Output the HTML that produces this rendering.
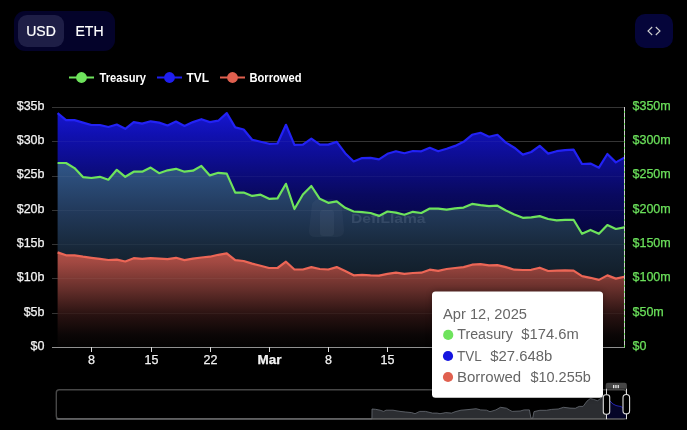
<!DOCTYPE html>
<html><head><meta charset="utf-8"><style>
html,body{margin:0;padding:0;background:#000;width:687px;height:430px;overflow:hidden}
svg{display:block;font-family:"Liberation Sans",sans-serif;will-change:transform}
</style></head><body>
<svg width="687" height="430" viewBox="0 0 687 430">
<defs>
<linearGradient id="gT" gradientUnits="userSpaceOnUse" x1="0" y1="107" x2="0" y2="347.5">
<stop offset="0" stop-color="rgb(24,24,215)"/>
<stop offset="0.116" stop-color="rgb(16,16,176)"/>
<stop offset="0.262" stop-color="rgb(12,12,128)"/>
<stop offset="0.366" stop-color="rgb(9,9,95)"/>
<stop offset="0.532" stop-color="rgb(6,6,62)"/>
<stop offset="1" stop-color="rgb(3,3,30)"/></linearGradient>
<linearGradient id="gG" gradientUnits="userSpaceOnUse" x1="0" y1="107" x2="0" y2="347.5">
<stop offset="0.22" stop-color="rgb(48,86,136)"/>
<stop offset="0.262" stop-color="rgb(46,82,130)"/>
<stop offset="0.428" stop-color="rgb(34,58,92)"/>
<stop offset="0.594" stop-color="rgb(23,39,56)"/>
<stop offset="0.74" stop-color="rgb(16,27,37)"/>
<stop offset="1" stop-color="rgb(8,12,16)"/></linearGradient>
<linearGradient id="gB" gradientUnits="userSpaceOnUse" x1="0" y1="107" x2="0" y2="347.5">
<stop offset="0.594" stop-color="rgb(178,82,73)"/>
<stop offset="0.644" stop-color="rgb(162,73,66)"/>
<stop offset="0.76" stop-color="rgb(100,46,42)"/>
<stop offset="0.865" stop-color="rgb(40,18,17)"/>
<stop offset="0.948" stop-color="rgb(11,6,6)"/>
<stop offset="1" stop-color="rgb(3,2,2)"/></linearGradient>
<filter id="sh" x="-20%" y="-20%" width="140%" height="140%"><feGaussianBlur stdDeviation="3"/></filter>
</defs>
<rect x="0" y="0" width="687" height="430" fill="#000"/>
<!-- currency toggle -->
<rect x="14" y="11" width="101" height="40" rx="11" fill="#04032a"/>
<rect x="18" y="15" width="46" height="32" rx="9" fill="#1e1e46"/>
<text x="41" y="35.8" font-size="14" fill="#fff" stroke="#fff" stroke-width="0.2" text-anchor="middle">USD</text>
<text x="89.5" y="35.8" font-size="14" fill="#fff" stroke="#fff" stroke-width="0.2" text-anchor="middle">ETH</text>
<!-- embed button -->
<rect x="635" y="14" width="38" height="34" rx="10" fill="#05053a"/>
<path d="M652.2 27 L648 31 L652.2 35 M655.8 27 L660 31 L655.8 35" stroke="#d0d0d0" stroke-width="1.1" fill="none"/>
<!-- legend -->
<g font-size="12.5" font-weight="bold" fill="#fff">
<line x1="69" x2="94" y1="77.5" y2="77.5" stroke="#6ee35c" stroke-width="2"/><circle cx="81.5" cy="77.5" r="5.4" fill="#6ee35c"/>
<text x="99.5" y="81.6" textLength="46.5" lengthAdjust="spacingAndGlyphs">Treasury</text>
<line x1="157" x2="182" y1="77.5" y2="77.5" stroke="#1f1ff0" stroke-width="2"/><circle cx="169.5" cy="77.5" r="5.4" fill="#1f1ff0"/>
<text x="186.5" y="81.6" textLength="22.5" lengthAdjust="spacingAndGlyphs">TVL</text>
<line x1="220" x2="245" y1="77.5" y2="77.5" stroke="#e0604f" stroke-width="2"/><circle cx="232.5" cy="77.5" r="5.4" fill="#e0604f"/>
<text x="249.5" y="81.6" textLength="52" lengthAdjust="spacingAndGlyphs">Borrowed</text>
</g>
<!-- grid (under) -->
<g stroke="#2c2c2c" stroke-width="1"><line x1="52" x2="624.5" y1="107.5" y2="107.5"/><line x1="52" x2="624.5" y1="141.5" y2="141.5"/><line x1="52" x2="624.5" y1="176.5" y2="176.5"/><line x1="52" x2="624.5" y1="210.5" y2="210.5"/><line x1="52" x2="624.5" y1="244.5" y2="244.5"/><line x1="52" x2="624.5" y1="278.5" y2="278.5"/><line x1="52" x2="624.5" y1="313.5" y2="313.5"/></g>
<!-- areas -->
<path d="M57.60,113.10 66.06,120.10 74.52,120.10 82.97,122.60 91.43,125.00 99.89,125.00 108.35,127.00 116.81,124.50 125.27,128.80 133.72,122.10 142.18,123.60 150.64,121.30 159.10,122.60 167.56,125.50 176.01,121.50 184.47,125.90 192.93,122.10 201.39,119.20 209.85,122.10 218.31,120.70 226.76,113.10 235.22,127.40 243.68,129.50 252.14,139.80 260.60,141.70 269.06,143.80 277.51,143.50 285.97,124.80 294.43,144.90 302.89,144.60 311.35,138.70 319.80,144.60 328.26,144.60 336.72,141.90 345.18,153.20 353.64,161.50 362.10,158.10 370.55,157.80 379.01,159.30 387.47,153.80 395.93,151.30 404.39,153.20 412.84,151.00 421.30,151.30 429.76,147.80 438.22,151.30 446.68,148.80 455.14,145.90 463.59,141.80 472.05,134.80 480.51,132.80 488.97,136.70 497.43,134.80 505.89,142.60 514.34,147.70 522.80,154.60 531.26,152.00 539.72,145.90 548.18,153.60 556.63,151.20 565.09,150.10 573.55,149.60 582.01,164.00 590.47,163.60 598.93,167.70 607.38,154.00 615.84,162.40 624.30,157.60 L624.30,227.30 615.84,229.00 607.38,225.10 598.93,233.80 590.47,229.90 582.01,233.80 573.55,219.80 565.09,219.80 556.63,220.30 548.18,219.00 539.72,216.10 531.26,217.40 522.80,217.80 514.34,214.40 505.89,210.50 497.43,205.70 488.97,206.10 480.51,205.10 472.05,203.90 463.59,207.60 455.14,208.30 446.68,209.70 438.22,208.60 429.76,208.60 421.30,213.00 412.84,211.80 404.39,214.70 395.93,212.60 387.47,211.50 379.01,215.90 370.55,213.00 362.10,212.10 353.64,211.50 345.18,207.80 336.72,201.30 328.26,202.80 319.80,198.80 311.35,186.00 302.89,194.50 294.43,209.00 285.97,183.80 277.51,198.40 269.06,198.80 260.60,194.70 252.14,195.90 243.68,192.50 235.22,192.60 226.76,173.60 218.31,172.80 209.85,175.40 201.39,165.90 192.93,170.70 184.47,171.70 176.01,168.80 167.56,170.30 159.10,173.20 150.64,167.60 142.18,171.70 133.72,171.70 125.27,176.80 116.81,169.80 108.35,179.70 99.89,176.80 91.43,178.00 82.97,177.10 74.52,168.10 66.06,163.00 57.60,163.00 Z" fill="url(#gT)"/>
<path d="M57.60,163.00 66.06,163.00 74.52,168.10 82.97,177.10 91.43,178.00 99.89,176.80 108.35,179.70 116.81,169.80 125.27,176.80 133.72,171.70 142.18,171.70 150.64,167.60 159.10,173.20 167.56,170.30 176.01,168.80 184.47,171.70 192.93,170.70 201.39,165.90 209.85,175.40 218.31,172.80 226.76,173.60 235.22,192.60 243.68,192.50 252.14,195.90 260.60,194.70 269.06,198.80 277.51,198.40 285.97,183.80 294.43,209.00 302.89,194.50 311.35,186.00 319.80,198.80 328.26,202.80 336.72,201.30 345.18,207.80 353.64,211.50 362.10,212.10 370.55,213.00 379.01,215.90 387.47,211.50 395.93,212.60 404.39,214.70 412.84,211.80 421.30,213.00 429.76,208.60 438.22,208.60 446.68,209.70 455.14,208.30 463.59,207.60 472.05,203.90 480.51,205.10 488.97,206.10 497.43,205.70 505.89,210.50 514.34,214.40 522.80,217.80 531.26,217.40 539.72,216.10 548.18,219.00 556.63,220.30 565.09,219.80 573.55,219.80 582.01,233.80 590.47,229.90 598.93,233.80 607.38,225.10 615.84,229.00 624.30,227.30 L624.30,276.70 615.84,278.60 607.38,275.40 598.93,279.90 590.47,277.80 582.01,276.20 573.55,270.60 565.09,270.30 556.63,270.60 548.18,271.00 539.72,267.70 531.26,269.80 522.80,270.00 514.34,269.70 505.89,267.10 497.43,265.10 488.97,265.40 480.51,264.20 472.05,264.70 463.59,267.10 455.14,268.00 446.68,269.00 438.22,270.90 429.76,269.70 421.30,272.70 412.84,273.00 404.39,273.80 395.93,272.70 387.47,273.80 379.01,275.60 370.55,275.30 362.10,274.80 353.64,275.30 345.18,270.90 336.72,267.10 328.26,269.50 319.80,269.00 311.35,267.10 302.89,269.50 294.43,269.50 285.97,261.70 277.51,268.00 269.06,268.00 260.60,265.70 252.14,263.60 243.68,261.00 235.22,260.10 226.76,253.40 218.31,254.80 209.85,256.70 201.39,257.50 192.93,258.60 184.47,260.10 176.01,257.80 167.56,259.20 159.10,258.60 150.64,258.20 142.18,258.90 133.72,258.20 125.27,261.50 116.81,259.70 108.35,260.00 99.89,258.90 91.43,257.80 82.97,256.70 74.52,255.30 66.06,255.30 57.60,252.40 Z" fill="url(#gG)"/>
<path d="M57.60,347.5 L57.60,252.40 66.06,255.30 74.52,255.30 82.97,256.70 91.43,257.80 99.89,258.90 108.35,260.00 116.81,259.70 125.27,261.50 133.72,258.20 142.18,258.90 150.64,258.20 159.10,258.60 167.56,259.20 176.01,257.80 184.47,260.10 192.93,258.60 201.39,257.50 209.85,256.70 218.31,254.80 226.76,253.40 235.22,260.10 243.68,261.00 252.14,263.60 260.60,265.70 269.06,268.00 277.51,268.00 285.97,261.70 294.43,269.50 302.89,269.50 311.35,267.10 319.80,269.00 328.26,269.50 336.72,267.10 345.18,270.90 353.64,275.30 362.10,274.80 370.55,275.30 379.01,275.60 387.47,273.80 395.93,272.70 404.39,273.80 412.84,273.00 421.30,272.70 429.76,269.70 438.22,270.90 446.68,269.00 455.14,268.00 463.59,267.10 472.05,264.70 480.51,264.20 488.97,265.40 497.43,265.10 505.89,267.10 514.34,269.70 522.80,270.00 531.26,269.80 539.72,267.70 548.18,271.00 556.63,270.60 565.09,270.30 573.55,270.60 582.01,276.20 590.47,277.80 598.93,279.90 607.38,275.40 615.84,278.60 624.30,276.70 L624.30,347.5 Z" fill="url(#gB)"/>
<g stroke="#fff" stroke-opacity="0.045" stroke-width="1"><line x1="52" x2="624.5" y1="107.5" y2="107.5"/><line x1="52" x2="624.5" y1="141.5" y2="141.5"/><line x1="52" x2="624.5" y1="176.5" y2="176.5"/><line x1="52" x2="624.5" y1="210.5" y2="210.5"/><line x1="52" x2="624.5" y1="244.5" y2="244.5"/><line x1="52" x2="624.5" y1="278.5" y2="278.5"/><line x1="52" x2="624.5" y1="313.5" y2="313.5"/></g>
<!-- watermark -->
<g fill="#c8d8f0">
<path opacity="0.045" d="M312 204 Q316 198 322 199 L332 199 Q340 200 342 208 L344 230 Q344 237 337 237 L315 237 Q309 237 309 231 Z"/>
<rect opacity="0.05" x="320" y="210" width="14" height="26" rx="3"/>
<text opacity="0.13" x="351" y="222.5" font-size="13" font-weight="bold" textLength="74.5" lengthAdjust="spacingAndGlyphs">DefiLlama</text>
</g>
<polyline points="57.60,113.10 66.06,120.10 74.52,120.10 82.97,122.60 91.43,125.00 99.89,125.00 108.35,127.00 116.81,124.50 125.27,128.80 133.72,122.10 142.18,123.60 150.64,121.30 159.10,122.60 167.56,125.50 176.01,121.50 184.47,125.90 192.93,122.10 201.39,119.20 209.85,122.10 218.31,120.70 226.76,113.10 235.22,127.40 243.68,129.50 252.14,139.80 260.60,141.70 269.06,143.80 277.51,143.50 285.97,124.80 294.43,144.90 302.89,144.60 311.35,138.70 319.80,144.60 328.26,144.60 336.72,141.90 345.18,153.20 353.64,161.50 362.10,158.10 370.55,157.80 379.01,159.30 387.47,153.80 395.93,151.30 404.39,153.20 412.84,151.00 421.30,151.30 429.76,147.80 438.22,151.30 446.68,148.80 455.14,145.90 463.59,141.80 472.05,134.80 480.51,132.80 488.97,136.70 497.43,134.80 505.89,142.60 514.34,147.70 522.80,154.60 531.26,152.00 539.72,145.90 548.18,153.60 556.63,151.20 565.09,150.10 573.55,149.60 582.01,164.00 590.47,163.60 598.93,167.70 607.38,154.00 615.84,162.40 624.30,157.60" fill="none" stroke="#2222f5" stroke-width="2.2" stroke-linejoin="round"/>
<polyline points="57.60,163.00 66.06,163.00 74.52,168.10 82.97,177.10 91.43,178.00 99.89,176.80 108.35,179.70 116.81,169.80 125.27,176.80 133.72,171.70 142.18,171.70 150.64,167.60 159.10,173.20 167.56,170.30 176.01,168.80 184.47,171.70 192.93,170.70 201.39,165.90 209.85,175.40 218.31,172.80 226.76,173.60 235.22,192.60 243.68,192.50 252.14,195.90 260.60,194.70 269.06,198.80 277.51,198.40 285.97,183.80 294.43,209.00 302.89,194.50 311.35,186.00 319.80,198.80 328.26,202.80 336.72,201.30 345.18,207.80 353.64,211.50 362.10,212.10 370.55,213.00 379.01,215.90 387.47,211.50 395.93,212.60 404.39,214.70 412.84,211.80 421.30,213.00 429.76,208.60 438.22,208.60 446.68,209.70 455.14,208.30 463.59,207.60 472.05,203.90 480.51,205.10 488.97,206.10 497.43,205.70 505.89,210.50 514.34,214.40 522.80,217.80 531.26,217.40 539.72,216.10 548.18,219.00 556.63,220.30 565.09,219.80 573.55,219.80 582.01,233.80 590.47,229.90 598.93,233.80 607.38,225.10 615.84,229.00 624.30,227.30" fill="none" stroke="#6ee35c" stroke-width="2.2" stroke-linejoin="round"/>
<polyline points="57.60,252.40 66.06,255.30 74.52,255.30 82.97,256.70 91.43,257.80 99.89,258.90 108.35,260.00 116.81,259.70 125.27,261.50 133.72,258.20 142.18,258.90 150.64,258.20 159.10,258.60 167.56,259.20 176.01,257.80 184.47,260.10 192.93,258.60 201.39,257.50 209.85,256.70 218.31,254.80 226.76,253.40 235.22,260.10 243.68,261.00 252.14,263.60 260.60,265.70 269.06,268.00 277.51,268.00 285.97,261.70 294.43,269.50 302.89,269.50 311.35,267.10 319.80,269.00 328.26,269.50 336.72,267.10 345.18,270.90 353.64,275.30 362.10,274.80 370.55,275.30 379.01,275.60 387.47,273.80 395.93,272.70 404.39,273.80 412.84,273.00 421.30,272.70 429.76,269.70 438.22,270.90 446.68,269.00 455.14,268.00 463.59,267.10 472.05,264.70 480.51,264.20 488.97,265.40 497.43,265.10 505.89,267.10 514.34,269.70 522.80,270.00 531.26,269.80 539.72,267.70 548.18,271.00 556.63,270.60 565.09,270.30 573.55,270.60 582.01,276.20 590.47,277.80 598.93,279.90 607.38,275.40 615.84,278.60 624.30,276.70" fill="none" stroke="#ec6656" stroke-width="2.2" stroke-linejoin="round"/>
<!-- axes -->
<line x1="52" x2="624.5" y1="347.5" y2="347.5" stroke="#909090" stroke-width="1"/>
<g stroke="#ddd" stroke-width="1"><line x1="91.5" x2="91.5" y1="347" y2="352"/><line x1="151.5" x2="151.5" y1="347" y2="352"/><line x1="210.5" x2="210.5" y1="347" y2="352"/><line x1="269.5" x2="269.5" y1="347" y2="352"/><line x1="328.5" x2="328.5" y1="347" y2="352"/><line x1="387.5" x2="387.5" y1="347" y2="352"/></g>
<line x1="624.5" x2="624.5" y1="107" y2="347.5" stroke="#6ee35c" stroke-width="1"/>
<line x1="624.5" x2="624.5" y1="107" y2="347.5" stroke="#ccc" stroke-width="1" stroke-dasharray="4 2"/>
<g font-size="12.5" fill="#f2f2f2" stroke="#f2f2f2" stroke-width="0.25" text-anchor="end"><text x="44.5" y="109.90">$35b</text><text x="44.5" y="144.19">$30b</text><text x="44.5" y="178.47">$25b</text><text x="44.5" y="212.76">$20b</text><text x="44.5" y="247.04">$15b</text><text x="44.5" y="281.33">$10b</text><text x="44.5" y="315.61">$5b</text><text x="44.5" y="349.90">$0</text></g>
<g font-size="12.5" fill="#6be05b" stroke="#6be05b" stroke-width="0.25"><text x="632.5" y="109.90">$350m</text><text x="632.5" y="144.19">$300m</text><text x="632.5" y="178.47">$250m</text><text x="632.5" y="212.76">$200m</text><text x="632.5" y="247.04">$150m</text><text x="632.5" y="281.33">$100m</text><text x="632.5" y="315.61">$50m</text><text x="632.5" y="349.90">$0</text></g>
<g font-size="12.5" fill="#f2f2f2" stroke="#f2f2f2" stroke-width="0.25" text-anchor="middle"><text x="91.5" y="363.9">8</text><text x="151.5" y="363.9">15</text><text x="210.5" y="363.9">22</text><text x="269.5" y="363.9" font-weight="bold" textLength="24" lengthAdjust="spacingAndGlyphs">Mar</text><text x="328.5" y="363.9">8</text><text x="387.5" y="363.9">15</text></g>
<!-- slider -->
<rect x="56.3" y="389.8" width="570" height="29.2" rx="3" fill="none" stroke="#474747" stroke-width="1.4"/>
<path d="M56.5,419 L56.5,419 371.9,419 372,409 375.5,409.3 380.1,410.2 383.6,411.4 386,410.2 393,410.2 400,411.4 405.7,412 411.6,412.6 415,413.7 419.7,411.4 425.5,411.4 432.5,413.1 437.2,413.1 440,413.7 445.8,412.6 451.6,413.1 455.1,411.7 461,410.2 468,409.6 476.1,408.7 480.7,409.9 486.6,410.2 490,411.7 495.9,409.9 500.5,407.3 506.4,408.2 509.8,410.2 512.2,411.4 520.2,411 524.2,409.9 529.4,409.9 531,418.2 532.7,418.2 534,411.6 539.9,410.3 546.4,410.3 551.7,409.4 558.2,409 563.5,407.3 570,408.1 575.3,408.3 579.2,406.4 583.1,406.4 587,401.1 590.3,398.5 593.6,399.4 597.5,400.7 601.5,397.9 604,395.2 606.3,398 L606.3,419 Z" fill="#2b2d31"/>
<polyline points="56.5,419 371.9,419 372,409 375.5,409.3 380.1,410.2 383.6,411.4 386,410.2 393,410.2 400,411.4 405.7,412 411.6,412.6 415,413.7 419.7,411.4 425.5,411.4 432.5,413.1 437.2,413.1 440,413.7 445.8,412.6 451.6,413.1 455.1,411.7 461,410.2 468,409.6 476.1,408.7 480.7,409.9 486.6,410.2 490,411.7 495.9,409.9 500.5,407.3 506.4,408.2 509.8,410.2 512.2,411.4 520.2,411 524.2,409.9 529.4,409.9 531,418.2 532.7,418.2 534,411.6 539.9,410.3 546.4,410.3 551.7,409.4 558.2,409 563.5,407.3 570,408.1 575.3,408.3 579.2,406.4 583.1,406.4 587,401.1 590.3,398.5 593.6,399.4 597.5,400.7 601.5,397.9 604,395.2 606.3,398" fill="none" stroke="#6a6e76" stroke-width="0.8"/>
<path d="M606.3,419 L606.3,398 610,401 613,404 616,405.5 618,406 621,406.5 624,409 626,410 L626,419 Z" fill="#050528"/>
<polyline points="606.3,398 610,401 613,404 616,405.5 618,406 621,406.5 624,409 626,410" fill="none" stroke="#2424b0" stroke-width="1"/>
<line x1="56.5" x2="626.5" y1="418.8" y2="418.8" stroke="#6a6a6a" stroke-width="1"/>
<path d="M605.7 388.7 L605.7 385 Q605.7 382.8 607.9 382.8 L624.7 382.8 Q626.9 382.8 626.9 385 L626.9 388.7 Z" fill="#464646"/>
<g fill="#e8e8e8"><rect x="613" y="385" width="1.3" height="3.2"/><rect x="615.3" y="385" width="1.3" height="3.2"/><rect x="617.6" y="385" width="1.3" height="3.2"/></g>
<g stroke="#ddd" stroke-width="1" fill="none">
<line x1="606.5" x2="606.5" y1="388.7" y2="419.2"/>
<line x1="626.5" x2="626.5" y1="388.7" y2="419.2"/>
</g>
<g stroke="#e0e0e0" stroke-width="1.1" fill="#000">
<rect x="603.3" y="394.8" width="6.4" height="19.4" rx="2.5"/>
<rect x="623" y="394.5" width="6.6" height="19.4" rx="3.2"/>
</g>
<!-- tooltip -->
<rect x="432" y="291.5" width="171" height="106.2" rx="3.5" fill="#000" opacity="0.3" filter="url(#sh)"/>
<rect x="432" y="291.5" width="171" height="106.2" rx="3.5" fill="#fff"/>
<g font-size="14" fill="#666">
<text x="443" y="318.7" textLength="84" lengthAdjust="spacingAndGlyphs">Apr 12, 2025</text>
<circle cx="448.2" cy="334.9" r="5.1" fill="#6ee35c"/>
<text x="457.3" y="339.3" textLength="55.6" lengthAdjust="spacingAndGlyphs">Treasury</text>
<text x="521.3" y="339.3" textLength="57.4" lengthAdjust="spacingAndGlyphs">$174.6m</text>
<circle cx="448" cy="356" r="5.1" fill="#1515e0"/>
<text x="457" y="360.9" textLength="24.6" lengthAdjust="spacingAndGlyphs">TVL</text>
<text x="490.3" y="360.9" textLength="62" lengthAdjust="spacingAndGlyphs">$27.648b</text>
<circle cx="448" cy="377" r="5.1" fill="#e0604f"/>
<text x="457" y="381.7" textLength="64.2" lengthAdjust="spacingAndGlyphs">Borrowed</text>
<text x="530.4" y="381.7" textLength="60.5" lengthAdjust="spacingAndGlyphs">$10.255b</text>
</g>
</svg>
</body></html>
